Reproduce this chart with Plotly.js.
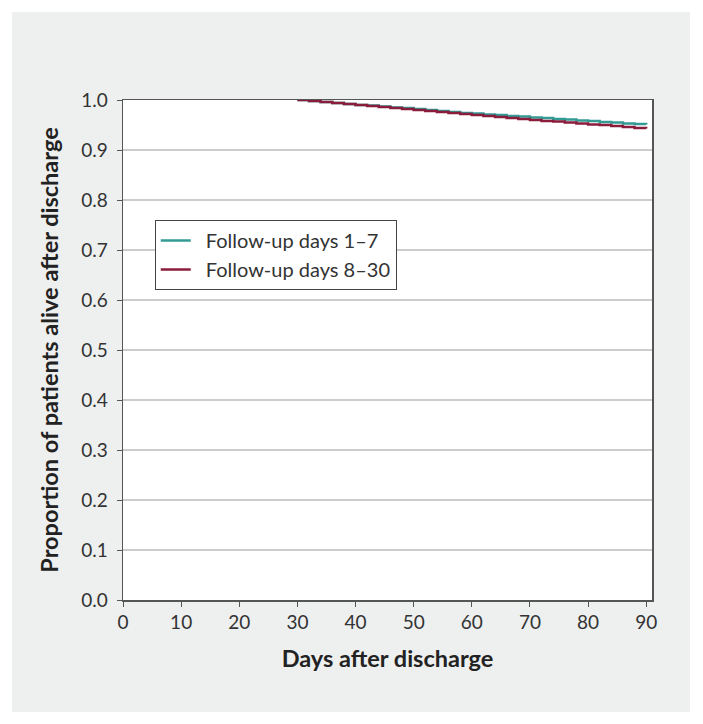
<!DOCTYPE html>
<html>
<head>
<meta charset="utf-8">
<script src="https://cdn.plot.ly/plotly-3.0.1.min.js"></script>
<style>
  body { margin: 0; background: #ffffff; }
  #chart { position: absolute; left: 12px; top: 12px; width: 678px; height: 700px; }
</style>
</head>
<body>
<div id="chart"></div>
<script>
// days after discharge (step points)
var days = [30, 32, 34, 36, 38, 40, 42, 44, 46, 48, 50, 52, 54, 56, 58, 60,
            62, 64, 66, 68, 70, 72, 74, 76, 78, 80, 82, 84, 86, 88, 90];

// proportion alive, follow-up days 1-7
var early = [1.000, 0.998, 0.996, 0.994, 0.992, 0.990, 0.989, 0.987, 0.985, 0.984, 0.982,
             0.980, 0.978, 0.976, 0.974, 0.973, 0.971, 0.970, 0.968, 0.967, 0.965,
             0.964, 0.962, 0.961, 0.959, 0.958, 0.956, 0.955, 0.953, 0.952, 0.951];

// proportion alive, follow-up days 8-30
var late = [1.000, 0.998, 0.996, 0.994, 0.992, 0.990, 0.988, 0.986, 0.984, 0.982, 0.980,
            0.978, 0.976, 0.974, 0.972, 0.970, 0.968, 0.966, 0.964, 0.962, 0.960,
            0.958, 0.957, 0.955, 0.953, 0.951, 0.950, 0.948, 0.946, 0.944, 0.943];

var seriesNames = ['Follow-up days 1\u20137', 'Follow-up days 8\u201330'];

var fontFam = 'Lato, "Noto Sans", sans-serif';

// a little extra gap between the legend line and its text
var pad = '\u2002';

var traces = [
    {
        x: days,
        y: early,
        type: 'scatter',
        mode: 'lines',
        name: pad + seriesNames[0],
        line: { color: '#339b94', width: 2.5, shape: 'hv' }
    },
    {
        x: days,
        y: late,
        type: 'scatter',
        mode: 'lines',
        name: pad + seriesNames[1],
        line: { color: '#8a1c3c', width: 2.5, shape: 'hv' }
    }
];

var layout = {
    width: 678,
    height: 700,
    paper_bgcolor: '#eeefef',
    plot_bgcolor: '#ffffff',
    font: { family: fontFam, size: 19, color: '#333333' },
    margin: { l: 111, r: 38, t: 88, b: 112 },
    showlegend: true,
    legend: {
        x: 0.06, y: 0.76,
        xanchor: 'left', yanchor: 'top',
        bgcolor: '#ffffff',
        bordercolor: '#444444',
        borderwidth: 1,
        font: { family: fontFam, size: 20, color: '#333333' },
        tracegroupgap: 0
    },
    xaxis: {
        range: [0, 91],
        tickvals: [0, 10, 20, 30, 40, 50, 60, 70, 80, 90],
        ticks: 'outside',
        ticklen: 5,
        tickcolor: '#555555',
        showgrid: false,
        zeroline: false,
        showline: true,
        mirror: true,
        linecolor: '#555555',
        linewidth: 1.5,
        title: { text: '<b>Days after discharge</b>', font: { size: 23.5, color: '#222222' }, standoff: 18 }
    },
    yaxis: {
        range: [0, 1.0],
        tickvals: [0, 0.1, 0.2, 0.3, 0.4, 0.5, 0.6, 0.7, 0.8, 0.9, 1.0],
        tickformat: '.1f',
        ticks: 'outside',
        ticklen: 5,
        ticklabelstandoff: 5,
        tickcolor: '#555555',
        showgrid: true,
        gridcolor: '#cccccc',
        gridwidth: 1.5,
        zeroline: false,
        showline: true,
        mirror: true,
        linecolor: '#555555',
        linewidth: 1.5,
        title: { text: '<b>Proportion of patients alive after discharge</b>', font: { size: 23.5, color: '#222222' }, standoff: 16 }
    }
};

Plotly.newPlot('chart', traces, layout, { displayModeBar: false, staticPlot: true });
</script>
</body>
</html>
